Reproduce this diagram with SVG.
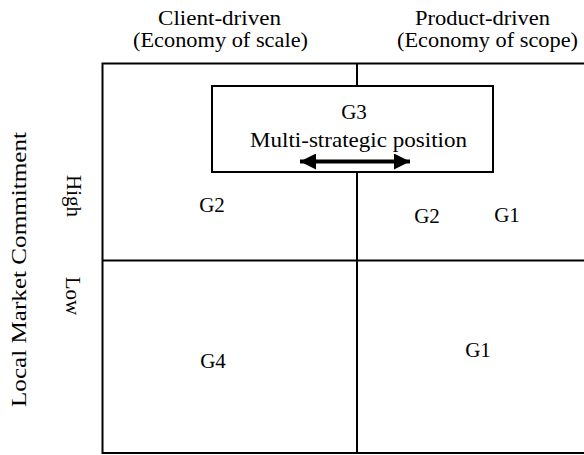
<svg xmlns="http://www.w3.org/2000/svg" width="584" height="455" viewBox="0 0 584 455">
  <style>
    text { font-family: "Liberation Serif", "Times New Roman", serif; font-size: 21px; fill: #000; }
    .mid { text-anchor: middle; }
    .grid { fill: none; stroke: #000; stroke-width: 2; }
    .box { fill: #fff; stroke: #000; stroke-width: 2; }
    .arrow { stroke: #000; stroke-width: 4; fill: none; }
  </style>
  <defs>
    <marker id="head" viewBox="0 0 10 10" refX="10" refY="5" markerWidth="4" markerHeight="4" orient="auto-start-reverse" markerUnits="strokeWidth">
      <path d="M0,0 L10,5 L0,10 Z" fill="#000"/>
    </marker>
  </defs>

  <rect width="584" height="455" fill="#fff"/>

  <!-- column headers -->
  <g id="header-client">
    <text class="mid" x="219.5" y="25" textLength="123" lengthAdjust="spacingAndGlyphs">Client-driven</text>
    <text class="mid" x="220.5" y="47" textLength="175" lengthAdjust="spacingAndGlyphs">(Economy of scale)</text>
  </g>
  <g id="header-product">
    <text class="mid" x="482.5" y="25" textLength="135" lengthAdjust="spacingAndGlyphs">Product-driven</text>
    <text class="mid" x="487.5" y="47" textLength="181" lengthAdjust="spacingAndGlyphs">(Economy of scope)</text>
  </g>

  <!-- row axis labels -->
  <g id="axis-commitment">
    <text class="mid" transform="translate(26,269.5) rotate(-90)" style="font-size:22px" textLength="275" lengthAdjust="spacingAndGlyphs">Local Market Commitment</text>
  </g>
  <g id="row-high">
    <text class="mid" transform="translate(67,196) rotate(90)">High</text>
  </g>
  <g id="row-low">
    <text class="mid" transform="translate(66,296) rotate(90)">Low</text>
  </g>

  <!-- quadrant grid -->
  <g id="grid">
    <path class="grid" d="M586,63.5 H102.5 V453 H586"/>
    <path class="grid" d="M357,63.5 V453"/>
    <path class="grid" d="M102.5,260.5 H586"/>
  </g>

  <!-- G3 spanning both columns -->
  <g id="g3">
    <rect class="box" x="212" y="86" width="281" height="86"/>
    <text class="mid" x="354" y="119">G3</text>
    <text class="mid" x="358.5" y="147" textLength="217" lengthAdjust="spacingAndGlyphs">Multi-strategic position</text>
  </g>

  <g id="connectors">
    <line class="arrow" x1="300" y1="161.5" x2="410" y2="161.5" marker-start="url(#head)" marker-end="url(#head)"/>
  </g>

  <!-- quadrant entries -->
  <g id="g2-left"><text class="mid" x="212" y="212">G2</text></g>
  <g id="g2-right"><text class="mid" x="427" y="223">G2</text></g>
  <g id="g1-high"><text class="mid" x="507" y="222">G1</text></g>
  <g id="g4"><text class="mid" x="213" y="368">G4</text></g>
  <g id="g1-low"><text class="mid" x="478" y="357">G1</text></g>
</svg>
